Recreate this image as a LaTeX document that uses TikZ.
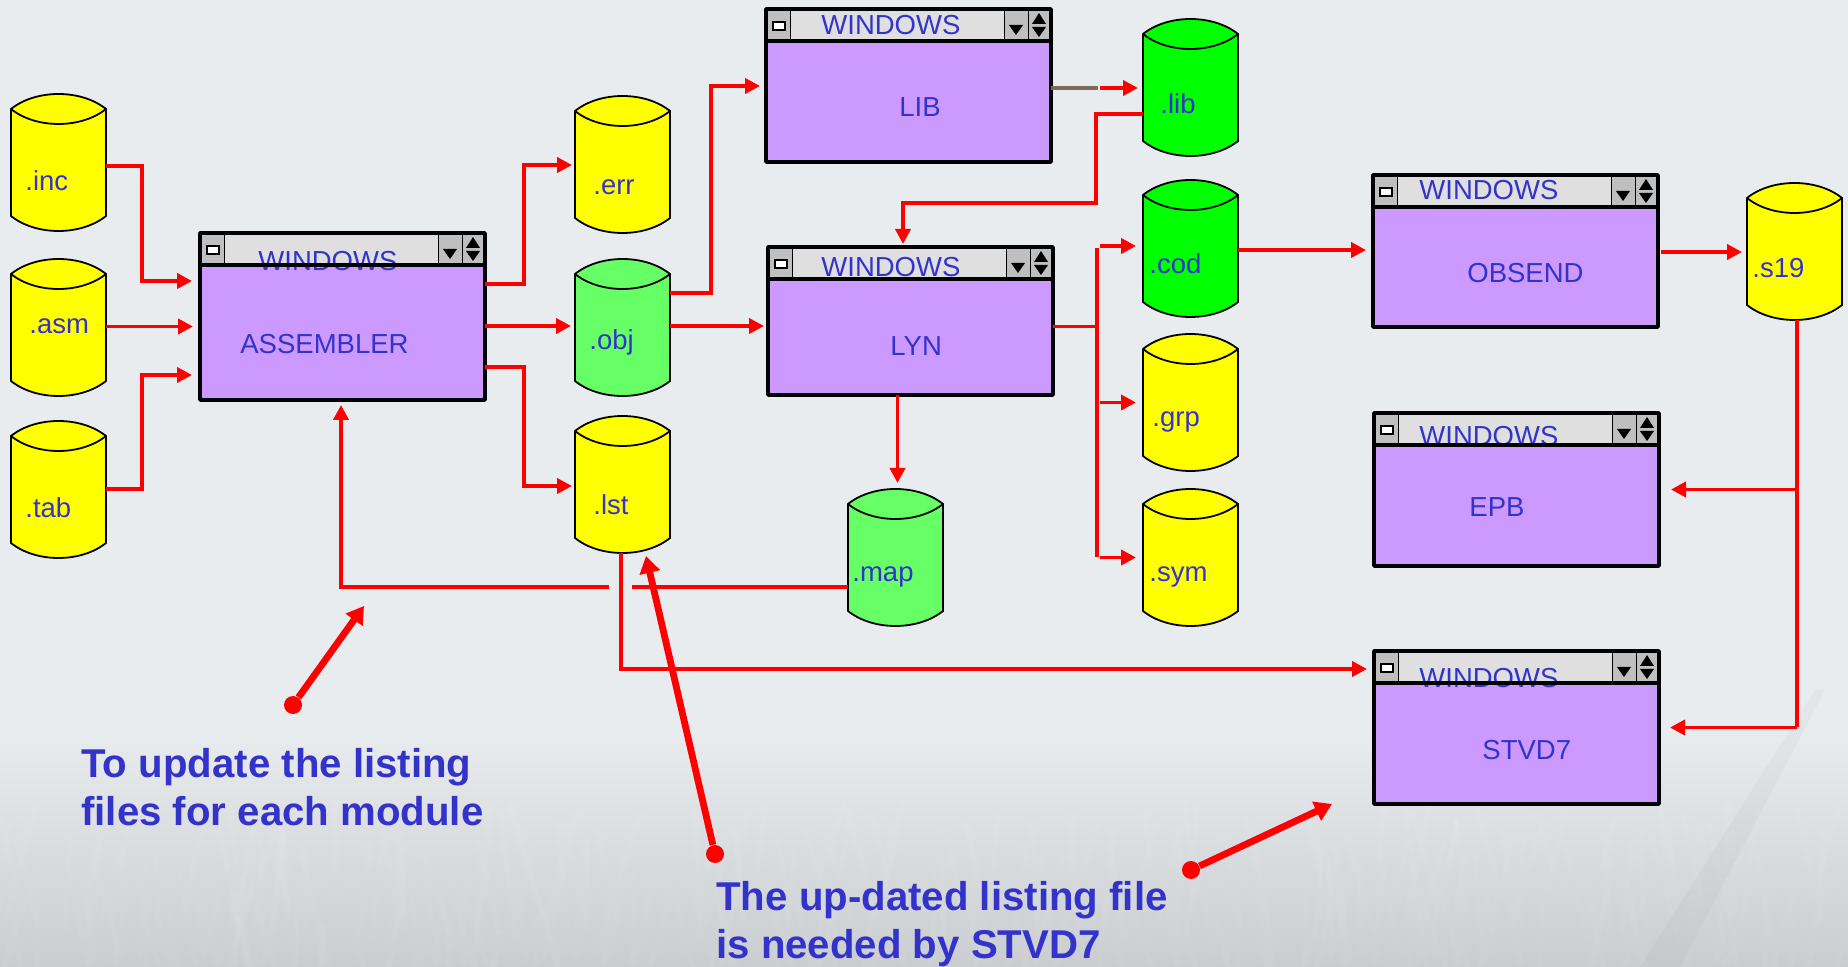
\documentclass[tikz,border=0pt]{standalone}
\usepackage{fontspec}
\setmainfont{Liberation Sans}
\usepackage{xcolor}
\usetikzlibrary{arrows.meta, calc, positioning}
\definecolor{mybg}{RGB}{232, 236, 239}
\definecolor{myink}{RGB}{51, 51, 204}
\definecolor{mypurple}{RGB}{204, 153, 255}
\definecolor{myyellow}{RGB}{255, 255, 0}
\definecolor{mygreen}{RGB}{0, 255, 0}
\definecolor{mylime}{RGB}{102, 255, 102}
\definecolor{mybrown}{RGB}{128, 104, 88}
\tikzset{
    flowline/.style={red, line width=1.9pt},
    flow/.style={flowline, -{Triangle[length=7.5pt, width=7.5pt]}},
    callout/.style={red, line width=3.4pt, -{Triangle[length=8.5pt, width=10pt]}},
    calloutdot/.style={circle, fill=red, inner sep=0pt, minimum size=9pt},
    winbody/.style={rectangle, fill=mypurple, minimum width=142.5pt, inner sep=0pt, outer sep=0pt},
    winframe/.style={black, line width=1.75pt, line join=round},
    wintext/.style={text=myink, anchor=base west, inner sep=0pt, yshift=-0.5pt, font=\fontsize{13.75}{16}\selectfont},
    diskbox/.style={rectangle, minimum width=47.5pt, minimum height=68.5pt, inner sep=0pt, outer sep=0pt},
    note/.style={text=myink, anchor=north west, inner sep=0pt, align=left, font=\fontsize{20.1}{24}\selectfont\bfseries}
}
% name, left, top, height, title x, title base, label, label x, label base
\newcommand{\windowbox}[9]{
    \node[winbody, minimum height=#4*0.5pt] (#1) at (#2+142.5, #3+#4/2) {};
    \begin{scope}[shift={(#2,#3)}]
        \fill[gray!50] (0,0) rectangle (285,32);
        \fill[gray!25] (24,0) rectangle (238,32);
        \draw[black, thin] (24,0) -- (24,32) (238,0) -- (238,32) (262,0) -- (262,32);
        \draw[black, line width=1pt, fill=white] (7,13) rectangle (19,21);
        \fill[black] (243,16) -- (257,16) -- (250,26) -- cycle;
        \fill[black] (266,15) -- (280,15) -- (273,4) -- cycle;
        \fill[black] (266,18) -- (280,18) -- (273,28) -- cycle;
    \end{scope}
    \node[wintext] (#1title) at (#5,#6) {WINDOWS};
    \draw[winframe] (#1.north west) rectangle (#1.south east);
    \draw[winframe] (#2,#3+32) -- (#2+285,#3+32);
    \node[wintext] (#1label) at (#8,#9) {#7};
}
% name, left, top, colour, label, label x, label base
\newcommand{\diskfile}[7]{
    \node[diskbox] (#1) at (#2+47.5, #3+68.5) {};
    \begin{scope}[shift={(#2,#3)}]
        \draw[black, line width=0.9pt, fill=#4] (0,15) .. controls (25,-5) and (70,-5) .. (95,15)
            -- (95,122) .. controls (70,142) and (25,142) .. (0,122) -- cycle;
        \draw[black, line width=0.9pt] (0,15) .. controls (25,35) and (70,35) .. (95,15);
    \end{scope}
    \node[wintext] (#1label) at (#6,#7) {#5};
}
\begin{document}
\begin{tikzpicture}[x=0.5pt, y=-0.5pt]
    \useasboundingbox (0,0) rectangle (1848,967);

    % Backdrop
    \fill[mybg] (0,0) rectangle (1848,967);
    \shade[top color=mybg, bottom color=black!13!mybg] (0,730) rectangle (1848,967);
    \begin{scope}
        \clip (0,0) rectangle (1848,967);
        \pgfmathsetseed{7}
        \foreach \i in {1,...,300} {
            \pgfmathsetmacro{\sx}{rnd*1848}
            \pgfmathsetmacro{\sy}{800+rnd*130}
            \pgfmathsetmacro{\sd}{rnd*60-30}
            \draw[white, opacity=0.04, line width=3pt, line cap=round] (\sx,\sy) -- (\sx+\sd,\sy+90);
        }
        \fill[black, opacity=0.025] (1815,690) -- (1825,690) -- (1680,967) -- (1640,967) -- cycle;
    \end{scope}

    % Files
    \diskfile{incfile}{11}{94}{myyellow}{.inc}{25}{190}
    \diskfile{asmfile}{11}{259}{myyellow}{.asm}{29}{333}
    \diskfile{tabfile}{11}{421}{myyellow}{.tab}{25}{517}
    \diskfile{errfile}{575}{96}{myyellow}{.err}{593}{194}
    \diskfile{objfile}{575}{259}{mylime}{.obj}{589}{349}
    \diskfile{lstfile}{575}{416}{myyellow}{.lst}{593}{514}
    \diskfile{mapfile}{848}{489}{mylime}{.map}{852}{581}
    \diskfile{libfile}{1143}{19}{mygreen}{.lib}{1160}{113}
    \diskfile{codfile}{1143}{180}{mygreen}{.cod}{1149}{273}
    \diskfile{grpfile}{1143}{334}{myyellow}{.grp}{1152}{426}
    \diskfile{symfile}{1143}{489}{myyellow}{.sym}{1149}{581}
    \diskfile{sfile}{1747}{183}{myyellow}{.s19}{1752}{277}

    % Windows
    \windowbox{assembler}{200}{233}{167}{258}{270}{ASSEMBLER}{240}{353}
    \windowbox{lib}{766}{9}{153}{821}{34}{LIB}{899}{116}
    \windowbox{lyn}{768}{247}{148}{821}{276}{LYN}{890}{355}
    \windowbox{obsend}{1373}{175}{152}{1419}{199}{OBSEND}{1467}{282}
    \windowbox{epb}{1374}{413}{153}{1419}{445}{EPB}{1469}{516}
    \windowbox{stvd}{1374}{651}{153}{1419}{687}{STVD7}{1482}{759}

    % Into the assembler
    \draw[flow] ([yshift=-1.75pt]incfile.east) -- ++(36,0) |- ([xshift=-4pt, yshift=17.75pt]assembler.west);
    \draw[flow] ([yshift=-5pt]assembler.west -| asmfile.east) -- ([xshift=-3.5pt, yshift=-5pt]assembler.west);
    \draw[flow] ([yshift=0.25pt]tabfile.east) -- ++(36,0) |- ([xshift=-4pt, yshift=-29.25pt]assembler.west);

    % Out of the assembler
    \draw[flow] ([yshift=16.25pt]assembler.east) -- ++(39,0) |- ([xshift=-1.5pt, yshift=-0.25pt]errfile.west);
    \draw[flow] ([yshift=-4.75pt]assembler.east) -- ([xshift=-2pt, yshift=-4.75pt]assembler.east -| objfile.west);
    \draw[flow] ([yshift=-25.25pt]assembler.east) -- ++(39,0) |- ([xshift=-1.5pt, yshift=-0.75pt]lstfile.west);

    % Object file to LIB and LYN
    \draw[flow] ([yshift=17.25pt]objfile.east) -- ++(41,0) |- ([xshift=-3pt, yshift=-0.25pt]lib.west);
    \draw[flow] ([yshift=0.75pt]objfile.east) -- ([xshift=-2pt, yshift=0.75pt]objfile.east -| lyn.west);

    % LIB to its file (brown stub) and back into LYN
    \draw[mybrown, line width=1.75pt] ([yshift=-1.25pt]lib.east) -- ++(47,0);
    \draw[flow] ([xshift=-21.5pt, yshift=-0.25pt]libfile.west) -- ([xshift=-2.5pt, yshift=-0.25pt]libfile.west);
    \draw[flow] ([yshift=-13.25pt]libfile.west) -- ++(-47,0) -- ++(0,89) -| ([xshift=-3.75pt, yshift=1.5pt]lyn.north);

    % LYN outputs
    \draw[flowline] ([yshift=-2.75pt]lyn.east) -- ++(44,0) coordinate (lynfork);
    \draw[flowline] (lynfork |- codfile.west) -- (lynfork |- symfile.west);
    \draw[flow] ([xshift=-21.5pt, yshift=1.25pt]codfile.west) -- ([xshift=-3.5pt, yshift=1.25pt]codfile.west);
    \draw[flow] ([xshift=-21.5pt]grpfile.west) -- ([xshift=-3.5pt]grpfile.west);
    \draw[flow] ([xshift=-21.5pt]symfile.west) -- ([xshift=-3.5pt]symfile.west);
    \draw[flow] ([xshift=-6.5pt]lyn.south) -- ([xshift=-6.5pt, yshift=3pt]lyn.south |- mapfile.north);

    % OBSEND and the s19 file
    \draw[flow] ([yshift=-0.75pt]codfile.east) -- ([xshift=-3.5pt, yshift=-0.75pt]codfile.east -| obsend.west);
    \draw[flow] ([xshift=1.5pt, yshift=-0.25pt]sfile.west -| obsend.east) -- ([xshift=-2.5pt, yshift=-0.25pt]sfile.west);
    \coordinate (sdrop) at ([xshift=1.25pt]sfile.south);
    \draw[flowline] (sdrop) -- (sdrop |- stvd.east);
    \draw[flow] (sdrop |- stvd.east) -- ([xshift=5.5pt]stvd.east);
    \draw[flow] (sdrop |- epb.east) -- ([xshift=6pt]epb.east);

    % Listing files
    \draw[flowline] ([yshift=-14.75pt]mapfile.west) -- ++(-216,0) coordinate (mapgap);
    \draw[flow] ([xshift=-11.5pt]mapgap) -| ([xshift=-0.75pt, yshift=-2.5pt]assembler.south);
    \draw[flow] ([xshift=-0.75pt]lstfile.south) |- ([xshift=-3.5pt, yshift=29.25pt]stvd.west);

    % Callouts
    \node[calloutdot] (updatedot) at (293,705) {};
    \coordinate (updatetip) at (364,606);
    \draw[callout] (updatedot) -- (updatetip);
    \node[calloutdot] (neededdot) at (715,854) {};
    \coordinate (neededtip) at (646,556);
    \draw[callout] (neededdot) -- (neededtip);
    \node[calloutdot] (stvddot) at (1191,870) {};
    \coordinate (stvdtip) at (1332,804);
    \draw[callout] (stvddot) -- (stvdtip);

    \node[note] (updatenote) at (81,748) {To update the listing\\files for each module};
    \node[note] (needednote) at (716,881) {The up-dated listing file\\is needed by STVD7};
\end{tikzpicture}
\end{document}
